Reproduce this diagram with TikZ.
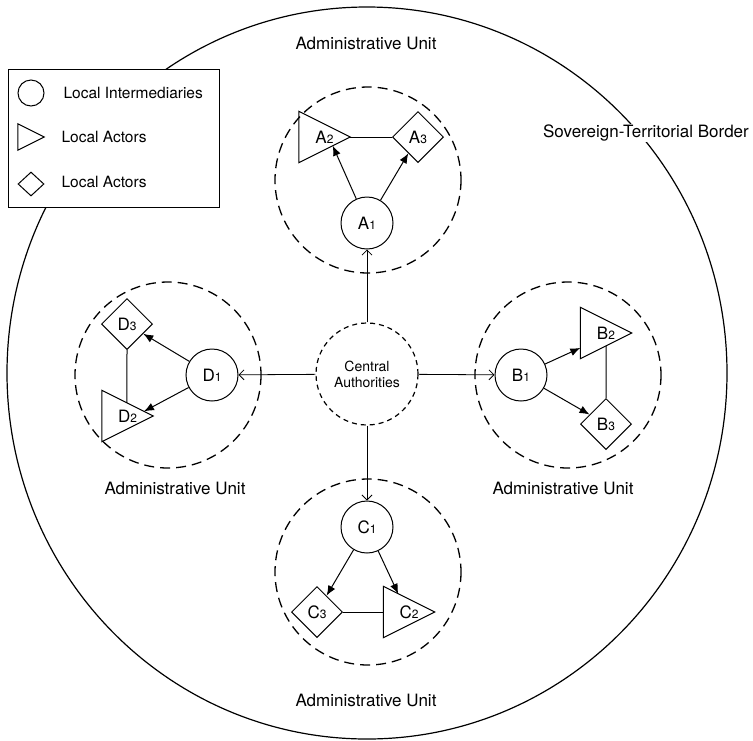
\documentclass[tikz,border=0pt]{standalone}
\usepackage{fontspec}
\setmainfont{TeX Gyre Heros}
\usetikzlibrary{shapes.geometric,arrows.meta,calc}
\newcommand\lsub[1]{{\fontsize{12}{12}\selectfont #1}}
\begin{document}
\begin{tikzpicture}[x=1pt,y=-1pt,
  every node/.style={font=\fontsize{17}{20}\selectfont},
  inter/.style={circle,draw,line width=1pt,minimum size=52pt,inner sep=0pt},
  actordia/.style={diamond,draw,line width=1pt,minimum width=51pt,minimum height=51pt,inner sep=0pt},
  actortri/.style={rectangle,minimum width=51pt,minimum height=51pt,inner sep=0pt,
     append after command={\pgfextra{\draw[line width=1pt,line join=miter] (\tikzlastnode.north west) -- (\tikzlastnode.east) -- (\tikzlastnode.south west) -- cycle;}}},
  unitc/.style={dash pattern=on 10pt off 6pt,line width=1.3pt},
  arr/.style={line width=1pt,-{Latex[length=10pt,width=8pt]}},
  toarr/.style={line width=0.8pt,-{Straight Barb[length=5pt,width=10pt]}},
  legtxt/.style={font=\fontsize{15.5}{18}\selectfont,anchor=west},
]
\useasboundingbox (0,0) rectangle (753,740);
% sovereign border
\draw[line width=1.2pt] (367,373) ellipse [x radius=360, y radius=366];
% administrative units
\draw[unitc] (368,180) circle [radius=93];
\draw[unitc] (568,375) circle [radius=93];
\draw[unitc] (368,572) circle [radius=93];
\draw[unitc] (168,375) circle [radius=93];
% labels
\node (labA) at (366,43) {Administrative Unit};
\node (labD) at (175,488) {Administrative Unit};
\node (labB) at (563,488) {Administrative Unit};
\node (labC) at (366,700) {Administrative Unit};
\node[fill=white,inner sep=1pt] (labS) at (646,133) {Sovereign-Territorial Border};
% central authorities
\node[circle,draw,dash pattern=on 5pt off 4pt,line width=1.2pt,minimum size=102pt,inner sep=0pt,
  align=center,font=\fontsize{14}{16}\selectfont] (CA) at (367,374) {Central\\Authorities};
% unit A
\node[inter] (A1) at (367,223) {A\lsub{1}};
\node[actortri] (A2) at (324.5,137) {A\lsub{2}};
\node[actordia] (A3) at (418,137) {A\lsub{3}};
\draw[line width=1pt] (A2.east) -- (A3.west);
\draw[arr] (A1) -- ($(A2.south west)!0.66!(A2.east)$);
\draw[arr] (A1) -- (A3);
% unit B
\node[inter] (B1) at (521,375) {B\lsub{1}};
\node[actortri] (B2) at (606,333) {B\lsub{2}};
\node[actordia] (B3) at (606,424) {B\lsub{3}};
\draw[line width=1pt] ($(B2.south west)!0.5!(B2.east)$) -- (B3.north);
\draw[arr] (B1) -- ($(B2.north west)!0.79!(B2.south west)$);
\draw[arr] (B1) -- (B3);
% unit C
\node[inter] (C1) at (367,527) {C\lsub{1}};
\node[actordia] (C3) at (317,612) {C\lsub{3}};
\node[actortri] (C2) at (409,612) {C\lsub{2}};
\draw[line width=1pt] (C3.east) -- (C2.west);
\draw[arr] (C1) -- (C3);
\draw[arr] (C1) -- ($(C2.north west)!0.29!(C2.east)$);
% unit D
\node[inter] (D1) at (212,375) {D\lsub{1}};
\node[actordia] (D3) at (127,324) {D\lsub{3}};
\node[actortri] (D2) at (127.5,416) {D\lsub{2}};
\draw[line width=1pt] (D3.south) -- ($(D2.north west)!0.49!(D2.east)$);
\draw[arr] (D1) -- (D3);
\draw[arr] (D1) -- ($(D2.north west)!0.82!(D2.east)$);
% central to units
\draw[toarr] (CA) -- (A1);
\draw[toarr] (CA) -- (B1);
\draw[toarr] (CA) -- (C1);
\draw[toarr] (CA) -- (D1);
% legend
\node[draw,fill=white,line width=1pt,minimum width=211pt,minimum height=138pt,inner sep=0pt,anchor=north west] (leg) at (8,69) {};
\node[circle,draw,line width=1pt,minimum size=26pt,inner sep=0pt] (legC) at (31,93) {};
\node[actortri,minimum width=26pt,minimum height=26pt] (legT) at (31,137) {};
\node[actordia,minimum width=26pt,minimum height=24pt] (legD) at (31,184) {};
\node[legtxt] (legCt) at (60,93) {Local Intermediaries};
\node[legtxt] (legTt) at (58,137) {Local Actors};
\node[legtxt] (legDt) at (58,182) {Local Actors};
\end{tikzpicture}
\end{document}
